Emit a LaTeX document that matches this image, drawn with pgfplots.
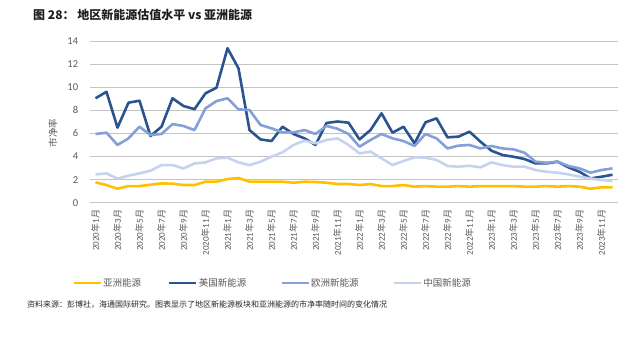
\documentclass[border=0pt]{standalone}
\usepackage{fontspec}
\setmainfont{Carlito}
\newfontfamily\cjk{Noto Sans CJK SC}
\usepackage{pgfplots}
\usepackage{pgfplotstable}
\pgfplotsset{compat=1.18}
\definecolor{cAsia}{HTML}{FFC000}
\definecolor{cUS}{HTML}{2A5490}
\definecolor{cEU}{HTML}{85A0D6}
\definecolor{cCN}{HTML}{C5D3EC}
\definecolor{gridgray}{HTML}{C4C4C4}
\definecolor{labgray}{HTML}{595959}
\newcommand\ym[2]{#1{\cjk 年}#2{\cjk 月}}

\pgfplotstableread{
x asia us eu cn
0 1.76 9.04 5.95 2.45
1 1.53 9.60 6.06 2.54
2 1.21 6.50 5.00 2.08
3 1.44 8.66 5.57 2.34
4 1.44 8.83 6.58 2.54
5 1.56 5.77 5.86 2.77
6 1.67 6.58 5.95 3.26
7 1.65 9.04 6.81 3.26
8 1.53 8.37 6.64 2.97
9 1.53 8.10 6.29 3.40
10 1.82 9.47 8.17 3.49
11 1.82 9.96 8.80 3.84
12 2.05 13.37 9.04 3.90
13 2.14 11.63 8.08 3.49
14 1.82 6.29 8.03 3.26
15 1.82 5.48 6.73 3.55
16 1.82 5.34 6.44 3.98
17 1.82 6.58 6.09 4.36
18 1.73 5.95 6.09 5.00
19 1.82 5.57 6.29 5.37
20 1.79 5.00 5.95 5.14
21 1.73 6.90 6.65 5.43
22 1.62 7.03 6.40 5.57
23 1.62 6.93 5.95 5.00
24 1.53 5.48 4.85 4.27
25 1.62 6.29 5.43 4.42
26 1.44 7.74 5.95 3.84
27 1.44 6.06 5.57 3.26
28 1.53 6.58 5.34 3.61
29 1.39 5.14 4.91 3.93
30 1.44 6.96 5.95 3.90
31 1.39 7.30 5.57 3.70
32 1.39 5.66 4.70 3.18
33 1.44 5.72 4.94 3.12
34 1.39 6.15 5.00 3.20
35 1.44 5.28 4.70 3.06
36 1.44 4.50 4.91 3.49
37 1.44 4.13 4.70 3.26
38 1.44 3.98 4.62 3.12
39 1.39 3.78 4.33 3.12
40 1.39 3.40 3.55 2.83
41 1.44 3.40 3.46 2.68
42 1.39 3.55 3.55 2.60
43 1.44 3.06 3.18 2.45
44 1.39 2.68 2.97 2.25
45 1.21 2.10 2.60 2.10
46 1.33 2.25 2.83 1.96
47 1.33 2.42 2.97 1.90
}\datatable

\begin{document}
\begin{tikzpicture}
\useasboundingbox (0,0) rectangle (628pt,-338pt);
\node[anchor=west, inner sep=0pt, font=\cjk\bfseries\fontsize{12}{14}\selectfont, text=black!88] at (33pt,-15pt) {图~28：~地区新能源估值水平 vs 亚洲能源};
\node[rotate=90, inner sep=0pt, font=\cjk\fontsize{9.5}{11}\selectfont, text=labgray] at (53pt,-133pt) {市净率};
\node[anchor=west, inner sep=0pt, font=\cjk\fontsize{8}{9}\selectfont, text=black!85] at (27pt,-305pt) {资料来源：彭博社，海通国际研究。图表显示了地区新能源板块和亚洲能源的市净率随时间的变化情况};
\begin{axis}[
  at={(90pt,-202.7pt)}, anchor=south west,
  scale only axis, width=528pt, height=161.7pt,
  xmin=-0.5, xmax=47.5, ymin=0, ymax=14,
  ytick={0,2,...,14},
  xtick={0,2,...,46},
  xticklabels={\ym{2020}{1},\ym{2020}{3},\ym{2020}{5},\ym{2020}{7},\ym{2020}{9},\ym{2020}{11},
    \ym{2021}{1},\ym{2021}{3},\ym{2021}{5},\ym{2021}{7},\ym{2021}{9},\ym{2021}{11},
    \ym{2022}{1},\ym{2022}{3},\ym{2022}{5},\ym{2022}{7},\ym{2022}{9},\ym{2022}{11},
    \ym{2023}{1},\ym{2023}{3},\ym{2023}{5},\ym{2023}{7},\ym{2023}{9},\ym{2023}{11}},
  axis line style={draw=none},
  tick style={draw=none},
  major tick length=0pt,
  ymajorgrids,
  grid style={color=gridgray, line width=1pt},
  /pgf/number format/assume math mode=true,
  tick label style={text=labgray},
  yticklabel style={font=\fontsize{10.5}{12}\selectfont, inner sep=0pt},
  yticklabel shift=11.7pt,
  xticklabel style={font=\fontsize{9}{10}\selectfont, rotate=90, anchor=east, inner sep=0pt},
  xticklabel shift=7pt,
  legend columns=4,
  legend style={at={(-0.034,-0.497)}, anchor=west, draw=none, fill=none, inner sep=0pt,
    font=\cjk\fontsize{9.5}{11}\selectfont, text=labgray,
    nodes={inner sep=1pt},
    /tikz/every even column/.append style={column sep=33pt}},
  legend cell align=left,
  legend image code/.code={\draw[#1, line width=2.8pt] (0pt,0pt) -- (27pt,0pt);},
  every axis plot/.append style={line width=2.6pt, line join=round, mark=none},
]
\addplot[color=cAsia] table[x=x, y=asia] {\datatable};
\addlegendentry{亚洲能源\hspace*{-7pt}}
\addplot[color=cUS] table[x=x, y=us] {\datatable};
\addlegendentry{美国新能源}
\addplot[color=cEU] table[x=x, y=eu] {\datatable};
\addlegendentry{欧洲新能源}
\addplot[color=cCN] table[x=x, y=cn] {\datatable};
\addlegendentry{中国新能源}
\end{axis}
\end{tikzpicture}
\end{document}
